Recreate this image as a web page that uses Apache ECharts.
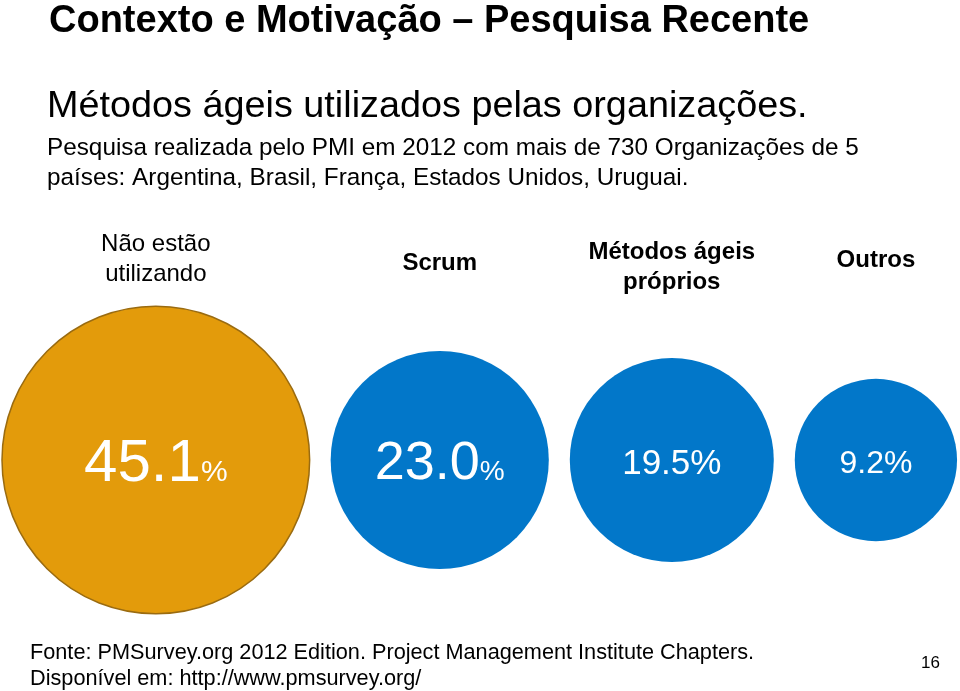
<!DOCTYPE html>
<html><head><meta charset="utf-8">
<script src="https://cdn.jsdelivr.net/npm/echarts@6/dist/echarts.min.js"></script>
<style>html,body{margin:0;padding:0;background:#fff}#c{width:960px;height:691px}</style>
</head><body><div id="c"></div>
<script>
// ---- data ----
const categories = ['Não estão\nutilizando', 'Scrum', 'Métodos ágeis\npróprios', 'Outros'];
const values = [45.1, 23.0, 19.5, 9.2];
const valueLabels = ['45.1', '23.0', '19.5', '9.2'];
const titleText = 'Contexto e Motivação – Pesquisa Recente';
const headingText = 'Métodos ágeis utilizados pelas organizações.';
const bodyLines = ['Pesquisa realizada pelo PMI em 2012 com mais de 730 Organizações de 5',
                   'países: Argentina, Brasil, França, Estados Unidos, Uruguai.'];
const footLines = ['Fonte: PMSurvey.org 2012 Edition. Project Management Institute Chapters.',
                   'Disponível em: http://www.pmsurvey.org/'];
const pageNumber = '16';

// ---- styling / layout (not data) ----
const FONT = '"Liberation Sans", Arial, Helvetica, sans-serif';
const colors = ['#E39B0B', '#0277C9', '#0277C9', '#0277C9'];
const borders = ['#9A6B10', null, null, null];
const numFont = [60, 54, 35, 32];
const pctFont = [30, 28, 35, 32];
const catBold = [false, true, true, true];
const catOffsetY = [-201, -197, -193, -200];
const sizeOf = v => 125 + 4.05 * v;  // diameter mapping
const startX = 2, gap = 21;

// positions computed from sizes (packed row)
const xs = [];
let cur = startX;
values.forEach(v => { const d = sizeOf(v); xs.push(cur + d / 2); cur += d + gap; });

const chart = echarts.init(document.getElementById('c'), null, {renderer: 'canvas'});

const seriesData = values.map((v, i) => ({
  value: [xs[i], 'row'],
  symbolSize: sizeOf(v),
  itemStyle: {
    color: colors[i],
    opacity: 1,
    borderColor: borders[i] || colors[i],
    borderWidth: borders[i] ? 1.5 : 0
  },
  label: {
    show: true,
    position: 'inside',
    offset: [0, 4],
    formatter: '{n|' + valueLabels[i] + '}{p|%}',
    rich: {
      n: {fontSize: numFont[i], color: '#fff', fontFamily: FONT, verticalAlign: 'bottom', lineHeight: numFont[i]},
      p: {fontSize: pctFont[i], color: '#fff', fontFamily: FONT, verticalAlign: 'bottom', lineHeight: pctFont[i],
          padding: [0, 0, Math.round((numFont[i] - pctFont[i]) * 0.21), 0]}
    }
  }
}));

const graphics = [];
graphics.push({type: 'text', left: 49, top: 3, style: {text: titleText, font: 'bold 38px ' + FONT, fill: '#000'}});
graphics.push({type: 'text', left: 47, top: 88, style: {text: headingText, font: '37.8px ' + FONT, fill: '#000'}});
bodyLines.forEach((t, i) => graphics.push({type: 'text', left: 47, top: 136 + i * 30, style: {text: t, font: '24.3px ' + FONT, fill: '#000'}}));
footLines.forEach((t, i) => graphics.push({type: 'text', left: 30, top: 642 + i * 26, style: {text: t, font: '21.7px ' + FONT, fill: '#000'}}));
graphics.push({type: 'text', left: 921, top: 655, style: {text: pageNumber, font: '17px ' + FONT, fill: '#000'}});

const option = {
  backgroundColor: '#fff',
  animation: false,
  graphic: graphics,
  grid: {left: 0, right: 0, top: 400, height: 120, containLabel: false},
  xAxis: {type: 'value', min: 0, max: 960, show: false},
  yAxis: {type: 'category', data: ['row'], show: false},
  series: [{
    type: 'scatter',
    symbol: 'circle',
    itemStyle: {opacity: 1},
    emphasis: {disabled: true},
    data: seriesData
  }, {
    // category captions above the circles, drawn via the same x scale
    type: 'scatter',
    symbolSize: 0,
    silent: true,
    itemStyle: {opacity: 1},
    data: categories.map((c, i) => ({
      value: [xs[i], 'row'],
      label: {
        show: true, position: 'inside', offset: [0, catOffsetY[i]],
        formatter: c,
        fontFamily: FONT, fontSize: 24, lineHeight: 30,
        fontWeight: catBold[i] ? 'bold' : 'normal', color: '#000', align: 'center'
      }
    }))
  }]
};
chart.setOption(option);
</script>
</body></html>
